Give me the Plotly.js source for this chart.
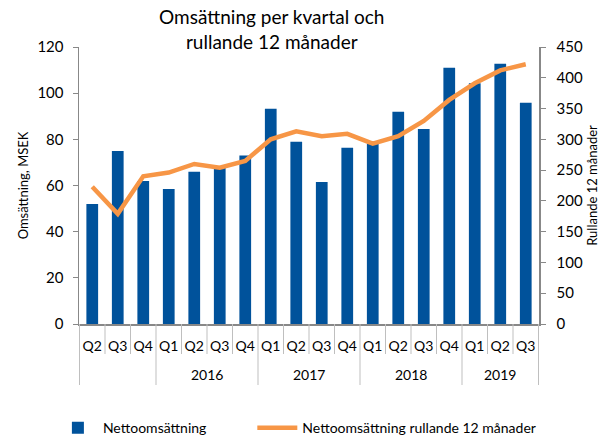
<!DOCTYPE html>
<html>
<head>
<meta charset="utf-8">
<script src="https://cdn.plot.ly/plotly-3.0.1.min.js"></script>
<style>html,body{margin:0;padding:0;background:#fff;}#chart{width:608px;height:436px;}</style>
</head>
<body>
<div id="chart"></div>
<script>
const years = ["", "", "", "2016", "2016", "2016", "2016", "2017", "2017", "2017", "2017", "2018", "2018", "2018", "2018", "2019", "2019", "2019"];
const quarters = ["Q2", "Q3", "Q4", "Q1", "Q2", "Q3", "Q4", "Q1", "Q2", "Q3", "Q4", "Q1", "Q2", "Q3", "Q4", "Q1", "Q2", "Q3"];
const nettoomsattning = [52, 75, 62, 58.5, 66, 68, 73, 93.3, 79, 61.5, 76.4, 78, 92, 84.5, 111, 104.3, 112.7, 95.8];
const rullande12 = [223, 179, 240, 246, 260, 254, 265, 300, 313, 305, 309, 293, 305, 330, 364, 391, 412, 422];

// unique category keys (year + quarter), labelled with the quarter only
const cats = quarters.map((q, i) => (years[i] || "–") + " " + q);

// year groups: start/end category index
const groups = [];
years.forEach((y, i) => {
  if (i === 0 || y !== years[i - 1]) groups.push({label: y, start: i, end: i});
  else groups[groups.length - 1].end = i;
});

const FONT = "Lato, 'Open Sans', sans-serif";
const grey = "#888888";
const lightGrey = "#bfbfbf";

// plot area: 277 px tall; label rows & separators below the axis
const yearRowY = -50 / 277;
const quarterSepBottom = -30 / 277;
const dividerBottom = -61 / 277;

const annotations = groups.filter(g => g.label !== "").map(g => ({
  xref: "x", yref: "paper",
  x: (g.start + g.end) / 2, y: yearRowY,
  text: g.label, showarrow: false,
  xanchor: "center", yanchor: "middle",
  font: {family: FONT, size: 14, color: "#000"}
}));

// year dividers (full depth) and quarter separators (first row only)
const groupEdges = [groups[0].start - 0.5].concat(groups.map(g => g.end + 0.5));
const shapes = [];
cats.forEach((c, i) => {
  if (i === 0) return;
  const b = i - 0.5;
  if (groupEdges.indexOf(b) === -1) {
    shapes.push({
      type: "line", xref: "x", yref: "paper",
      x0: b, x1: b, y0: 0, y1: quarterSepBottom,
      line: {color: lightGrey, width: 1}
    });
  }
});
groupEdges.forEach(b => shapes.push({
  type: "line", xref: "x", yref: "paper",
  x0: b, x1: b, y0: 0, y1: dividerBottom,
  line: {color: lightGrey, width: 1}
}));

const traces = [
  {
    type: "bar",
    name: "Nettoomsättning",
    x: cats,
    y: nettoomsattning,
    marker: {color: "#00529B"},
    yaxis: "y",
    legend: "legend"
  },
  {
    type: "scatter",
    mode: "lines",
    name: "Nettoomsättning rullande 12 månader",
    x: cats,
    y: rullande12,
    line: {color: "#F79646", width: 4.5},
    yaxis: "y2",
    legend: "legend2"
  }
];

const legendBase = {
  orientation: "h",
  xref: "container", xanchor: "left",
  y: 0.018, yref: "container", yanchor: "middle",
  font: {family: FONT, size: 14, color: "#000"},
  itemwidth: 40,
  bgcolor: "rgba(0,0,0,0)"
};

const layout = {
  width: 608, height: 436,
  margin: {l: 79, r: 69, t: 47, b: 112},
  paper_bgcolor: "#ffffff", plot_bgcolor: "#ffffff",
  font: {family: FONT, size: 14, color: "#000"},
  bargap: 0.54,
  showlegend: true,
  title: {
    text: "Omsättning per kvartal och<br>rullande 12 månader",
    font: {family: FONT, size: 19, color: "#000", weight: "normal"},
    x: 0.447, xref: "container", xanchor: "center",
    y: 0.944, yref: "container", yanchor: "top"
  },
  xaxis: {
    type: "category",
    tickmode: "array", tickvals: cats, ticktext: quarters,
    showline: true, linecolor: grey, linewidth: 1.5,
    ticks: "", ticklen: 29,
    tickangle: 0,
    ticklabelstandoff: 9,
    showgrid: false, zeroline: false,
    tickfont: {family: FONT, size: 14, color: "#000"}
  },
  yaxis: {
    range: [0, 120], dtick: 20,
    showline: true, linecolor: grey, linewidth: 1.5,
    ticks: "outside", ticklen: 5, tickcolor: grey,
    ticklabelstandoff: 6,
    showgrid: false, zeroline: false,
    tickfont: {family: FONT, size: 15, color: "#000"},
    title: {text: "Omsättning, MSEK", font: {family: FONT, size: 13, color: "#000"}, standoff: 6}
  },
  yaxis2: {
    range: [0, 450], dtick: 50,
    overlaying: "y", side: "right",
    showline: true, linecolor: grey, linewidth: 1.5,
    ticks: "outside", ticklen: 5, tickcolor: grey,
    ticklabelstandoff: 8,
    showgrid: false, zeroline: false,
    tickfont: {family: FONT, size: 15, color: "#000"},
    title: {text: "Rullande 12 månader", font: {family: FONT, size: 13, color: "#000"}, standoff: 6}
  },
  annotations: annotations,
  shapes: shapes,
  legend: Object.assign({}, legendBase, {x: 0.087}),
  legend2: Object.assign({}, legendBase, {x: 0.415})
};

Plotly.newPlot("chart", traces, layout, {displayModeBar: false, staticPlot: true});
</script>
</body>
</html>
